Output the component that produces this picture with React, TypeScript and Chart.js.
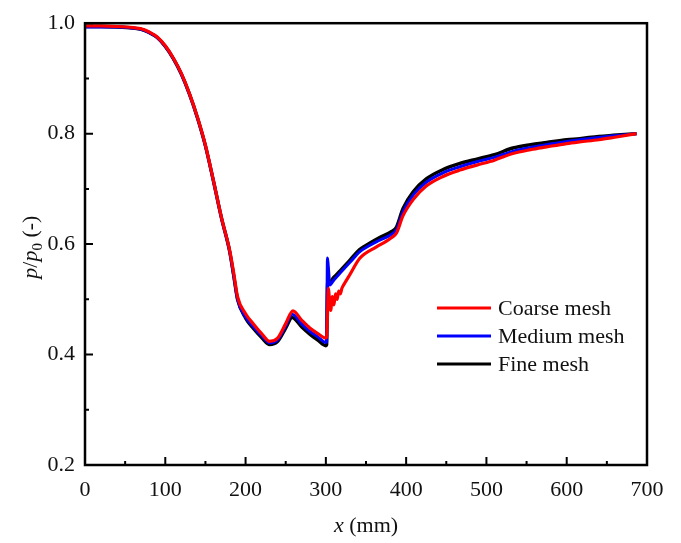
import React, { useEffect, useRef } from "react";
import { Chart, registerables } from "chart.js";

Chart.register(...registerables);

// Pressure ratio p/p0 along the duct axis for three mesh resolutions
const xCoarse = [0, 20, 40, 60, 70, 80, 90, 100, 110, 120, 130, 140, 150, 160, 170, 180, 185, 190, 200, 210, 220, 230, 240, 250, 259, 270, 280, 290, 300, 301, 302, 303, 305, 306, 308, 310, 312, 314, 316, 318, 320, 325, 330, 342, 363, 375, 382, 388, 396, 409, 425, 446, 467, 488, 510, 533, 555, 575, 600, 616, 640, 658, 687];
const yCoarse = [0.995, 0.995, 0.994, 0.992, 0.990, 0.984, 0.975, 0.959, 0.937, 0.909, 0.873, 0.830, 0.779, 0.715, 0.648, 0.590, 0.550, 0.505, 0.474, 0.455, 0.438, 0.424, 0.430, 0.456, 0.479, 0.462, 0.448, 0.438, 0.430, 0.432, 0.470, 0.520, 0.490, 0.480, 0.505, 0.490, 0.510, 0.500, 0.515, 0.510, 0.520, 0.533, 0.545, 0.574, 0.595, 0.605, 0.612, 0.620, 0.651, 0.681, 0.705, 0.7225, 0.734, 0.743, 0.752, 0.764, 0.771, 0.776, 0.782, 0.785, 0.789, 0.793, 0.800];

const xMedium = [0, 20, 40, 60, 70, 80, 90, 100, 110, 120, 130, 140, 150, 160, 170, 180, 185, 190, 200, 210, 220, 230, 240, 250, 258, 270, 280, 290, 300, 301, 302, 303, 305, 310, 318, 330, 342, 355, 367, 382, 388, 396, 409, 425, 446, 467, 488, 510, 533, 555, 575, 600, 616, 640, 658, 687];
const yMedium = [0.993, 0.993, 0.993, 0.991, 0.989, 0.983, 0.974, 0.958, 0.936, 0.908, 0.872, 0.829, 0.778, 0.714, 0.647, 0.588, 0.545, 0.500, 0.468, 0.450, 0.434, 0.421, 0.427, 0.452, 0.473, 0.455, 0.442, 0.432, 0.422, 0.424, 0.575, 0.560, 0.526, 0.535, 0.548, 0.567, 0.586, 0.598, 0.607, 0.618, 0.626, 0.658, 0.689, 0.712, 0.729, 0.740, 0.749, 0.757, 0.768, 0.775, 0.780, 0.786, 0.789, 0.793, 0.796, 0.800];

const xFine = [0, 20, 40, 60, 70, 80, 90, 100, 110, 120, 130, 140, 150, 160, 170, 180, 185, 190, 200, 210, 220, 230, 240, 250, 258, 270, 280, 290, 300, 301, 302, 305, 310, 318, 330, 342, 355, 367, 382, 388, 396, 409, 425, 446, 467, 488, 510, 533, 555, 575, 600, 616, 640, 658, 687];
const yFine = [0.994, 0.994, 0.993, 0.991, 0.989, 0.983, 0.974, 0.958, 0.936, 0.908, 0.872, 0.829, 0.778, 0.714, 0.647, 0.588, 0.545, 0.500, 0.466, 0.447, 0.431, 0.418, 0.424, 0.448, 0.467, 0.450, 0.437, 0.426, 0.416, 0.418, 0.530, 0.532, 0.540, 0.552, 0.571, 0.590, 0.602, 0.612, 0.623, 0.631, 0.664, 0.695, 0.718, 0.735, 0.746, 0.754, 0.762, 0.774, 0.780, 0.784, 0.789, 0.791, 0.795, 0.797, 0.800];

const seriesLabels = ["Coarse mesh", "Medium mesh", "Fine mesh"];
const seriesColors = ["#ff0000", "#0000ff", "#000000"];

const xTicks = [0, 100, 200, 300, 400, 500, 600, 700];
const yTicks = [0.2, 0.4, 0.6, 0.8, 1.0];

const SERIF = "'Liberation Serif', 'Times New Roman', serif";

const toPoints = (xs: number[], ys: number[]) => xs.map((x, i) => ({ x, y: ys[i] }));

// Frame, inward ticks, legend and mixed-style axis titles
const decorations = {
  id: "decorations",
  afterDraw(chart: any) {
    const { ctx, chartArea: a, scales } = chart;
    const xs = scales.x;
    const ys = scales.y;
    ctx.save();
    ctx.strokeStyle = "#000";
    ctx.lineWidth = 2.5;
    ctx.strokeRect(a.left, a.top, a.right - a.left, a.bottom - a.top);

    // inward ticks on bottom and left axes
    ctx.lineWidth = 2;
    ctx.beginPath();
    for (let v = 0; v <= 700; v += 50) {
      const px = xs.getPixelForValue(v);
      const len = v % 100 === 0 ? 8 : 4;
      ctx.moveTo(px, a.bottom);
      ctx.lineTo(px, a.bottom - len);
    }
    for (let k = 2; k <= 10; k++) {
      const v = k / 10;
      const py = ys.getPixelForValue(v);
      const len = k % 2 === 0 ? 8 : 4;
      ctx.moveTo(a.left, py);
      ctx.lineTo(a.left + len, py);
    }
    ctx.stroke();

    // legend
    ctx.font = `22px ${SERIF}`;
    ctx.textBaseline = "middle";
    ctx.textAlign = "left";
    const lx0 = 437;
    const lx1 = 491;
    const ly0 = 308;
    seriesLabels.forEach((lab, i) => {
      const y = ly0 + i * 28;
      ctx.strokeStyle = seriesColors[i];
      ctx.lineWidth = 3;
      ctx.beginPath();
      ctx.moveTo(lx0, y);
      ctx.lineTo(lx1, y);
      ctx.stroke();
      ctx.fillStyle = "#111";
      ctx.fillText(lab, 498, y + 1);
    });

    // x-axis title: italic x followed by (mm)
    ctx.fillStyle = "#111";
    ctx.textBaseline = "alphabetic";
    const xt1 = "x";
    const xt2 = " (mm)";
    ctx.font = `italic 22px ${SERIF}`;
    const w1 = ctx.measureText(xt1).width;
    ctx.font = `22px ${SERIF}`;
    const w2 = ctx.measureText(xt2).width;
    const cx = (a.left + a.right) / 2;
    const sx = cx - (w1 + w2) / 2;
    const ty = 532;
    ctx.font = `italic 22px ${SERIF}`;
    ctx.fillText(xt1, sx, ty);
    ctx.font = `22px ${SERIF}`;
    ctx.fillText(xt2, sx + w1, ty);

    // y-axis title: p/p0 (-), rotated
    const parts: [string, string, number][] = [
      ["p", `italic 22px ${SERIF}`, 0],
      ["/", `22px ${SERIF}`, 0],
      ["p", `italic 22px ${SERIF}`, 0],
      ["0", `15px ${SERIF}`, 5],
      [" (-)", `22px ${SERIF}`, 0],
    ];
    let total = 0;
    const widths = parts.map(([t, f]) => {
      ctx.font = f;
      const w = ctx.measureText(t).width;
      total += w;
      return w;
    });
    ctx.translate(37, (a.top + a.bottom) / 2 + 3);
    ctx.rotate(-Math.PI / 2);
    let px = -total / 2;
    parts.forEach(([t, f, dy], i) => {
      ctx.font = f;
      ctx.fillText(t, px, dy);
      px += widths[i];
    });
    ctx.restore();
  },
};

export default function App() {
  const ref = useRef<HTMLCanvasElement | null>(null);

  useEffect(() => {
    if (!ref.current) return;
    // dataset 0 is painted last, so the coarse mesh sits on top
    const datasets = [
      { data: toPoints(xCoarse, yCoarse), color: seriesColors[0], label: seriesLabels[0], w: 3.2 },
      { data: toPoints(xMedium, yMedium), color: seriesColors[1], label: seriesLabels[1], w: 3 },
      { data: toPoints(xFine, yFine), color: seriesColors[2], label: seriesLabels[2], w: 3.4 },
    ].map((d) => ({
      label: d.label,
      data: d.data,
      borderColor: d.color,
      backgroundColor: d.color,
      borderWidth: d.w,
      pointRadius: 0,
      cubicInterpolationMode: "monotone" as const,
      fill: false,
    }));

    const chart = new Chart(ref.current, {
      type: "line",
      data: { datasets },
      options: {
        responsive: false,
        animation: false,
        layout: { padding: { top: 17, right: 34, left: 0, bottom: 0 } },
        plugins: {
          legend: { display: false },
          tooltip: { enabled: false },
        },
        scales: {
          x: {
            type: "linear",
            min: 0,
            max: 700,
            afterFit: (s: any) => {
              s.height = 78;
            },
            afterBuildTicks: (s: any) => {
              s.ticks = xTicks.map((v) => ({ value: v }));
            },
            grid: { display: false, drawTicks: false },
            border: { display: false },
            ticks: {
              padding: 12,
              color: "#111",
              font: { family: SERIF, size: 22 },
              maxRotation: 0,
            },
          },
          y: {
            type: "linear",
            min: 0.2,
            max: 1.0,
            afterFit: (s: any) => {
              s.width = 85;
            },
            afterBuildTicks: (s: any) => {
              s.ticks = yTicks.map((v) => ({ value: v }));
            },
            grid: { display: false, drawTicks: false },
            border: { display: false },
            ticks: {
              padding: 10,
              color: "#111",
              font: { family: SERIF, size: 22 },
              callback: (v: any) => Number(v).toFixed(1),
            },
          },
        },
      },
      plugins: [decorations],
    });
    return () => chart.destroy();
  }, []);

  return (
    <div style={{ position: "fixed", left: 0, top: 0, width: 681, height: 543, background: "#fff" }}>
      <canvas ref={ref} width={681} height={543} />
    </div>
  );
}
